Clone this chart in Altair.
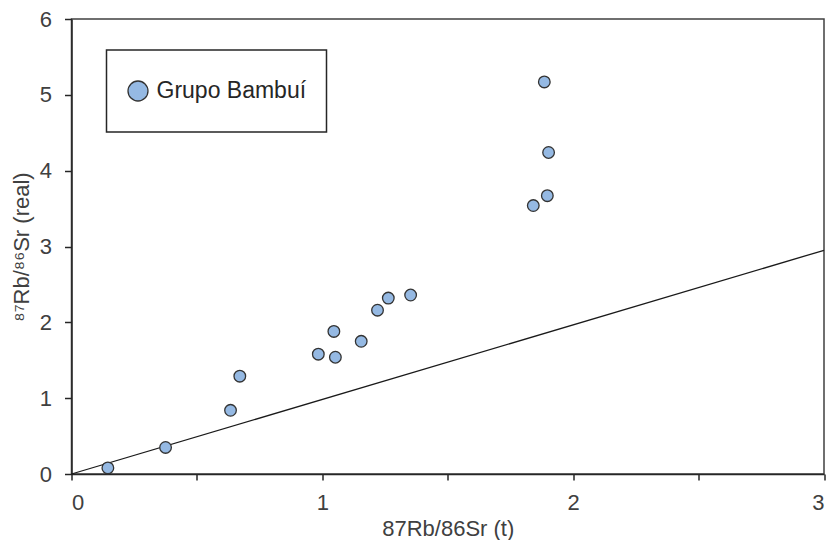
import altair as alt
import pandas as pd

# Data
rb_t = [0.145, 0.375, 0.634, 0.671, 0.984, 1.052, 1.046, 1.155, 1.220, 1.263, 1.352, 1.885, 1.902, 1.897, 1.841]
rb_real = [0.08, 0.35, 0.84, 1.29, 1.58, 1.54, 1.88, 1.75, 2.16, 2.32, 2.36, 5.17, 4.24, 3.67, 3.54]
group = ["Grupo Bambuí"] * len(rb_t)

line_x = [0, 3]
line_y = [0, 2.95]

x_ticks = [0, 0.5, 1, 1.5, 2, 2.5, 3]
y_ticks = [0, 0.5, 1, 1.5, 2, 2.5, 3, 3.5, 4, 4.5, 5, 5.5, 6]

pts = pd.DataFrame({"x": rb_t, "y": rb_real, "g": group})
ref = pd.DataFrame({"x": line_x, "y": line_y})

FONT = "Liberation Sans"
TXT = "#404040"
LBL = "datum.value % 1 === 0 ? format(datum.value, 'd') : ''"

xscale = alt.Scale(domain=[0, 3], nice=False, zero=False)
yscale = alt.Scale(domain=[0, 6], nice=False, zero=False)

xaxis = alt.Axis(values=x_ticks, labelExpr=LBL,
                 grid=False, tickSize=6, labelPadding=12, titlePadding=5,
                 title="87Rb/86Sr (t)")
yaxis = alt.Axis(values=y_ticks, labelExpr=LBL,
                 grid=False, tickSize=7, labelPadding=13, titlePadding=6,
                 title="⁸⁷Rb/⁸⁶Sr (real)")

line = alt.Chart(ref).mark_line(color="#1a1a1a", strokeWidth=1.3).encode(
    x=alt.X("x:Q", scale=xscale, axis=xaxis),
    y=alt.Y("y:Q", scale=yscale, axis=yaxis),
)

points = alt.Chart(pts).mark_point(
    shape="circle", filled=True, size=135, opacity=1,
    stroke="#333333", strokeWidth=1.3
).encode(
    x=alt.X("x:Q", scale=xscale),
    y=alt.Y("y:Q", scale=yscale),
    fill=alt.Fill("g:N", scale=alt.Scale(range=["#95B9E3"]),
                  legend=alt.Legend(title=None, orient="none", legendX=35, legendY=31,
                                    strokeColor="#262626", fillColor="white",
                                    padding=20, clipHeight=42,
                                    symbolSize=400, symbolStrokeColor="#333333",
                                    symbolStrokeWidth=1.3, labelOffset=7,
                                    labelFontSize=23, labelFont=FONT, labelColor="#262626")),
)

chart = alt.layer(line, points).properties(
    width=752.5, height=455,
    padding={"left": 63.5, "top": 11, "right": 6, "bottom": 66},
    autosize=alt.AutoSizeParams(type="none"),
).configure_view(
    stroke="#404040", strokeWidth=1.5
).configure_axis(
    domainColor="#262626", domainWidth=1.5, tickColor="#262626", tickWidth=1.5,
    labelFont=FONT, labelFontSize=22, labelColor=TXT,
    titleFont=FONT, titleFontSize=22, titleColor=TXT, titleFontWeight="normal",
).configure_legend(
    strokeWidth=1.5
)

chart.save("out.html", embed_options={"renderer": "svg", "actions": False})
